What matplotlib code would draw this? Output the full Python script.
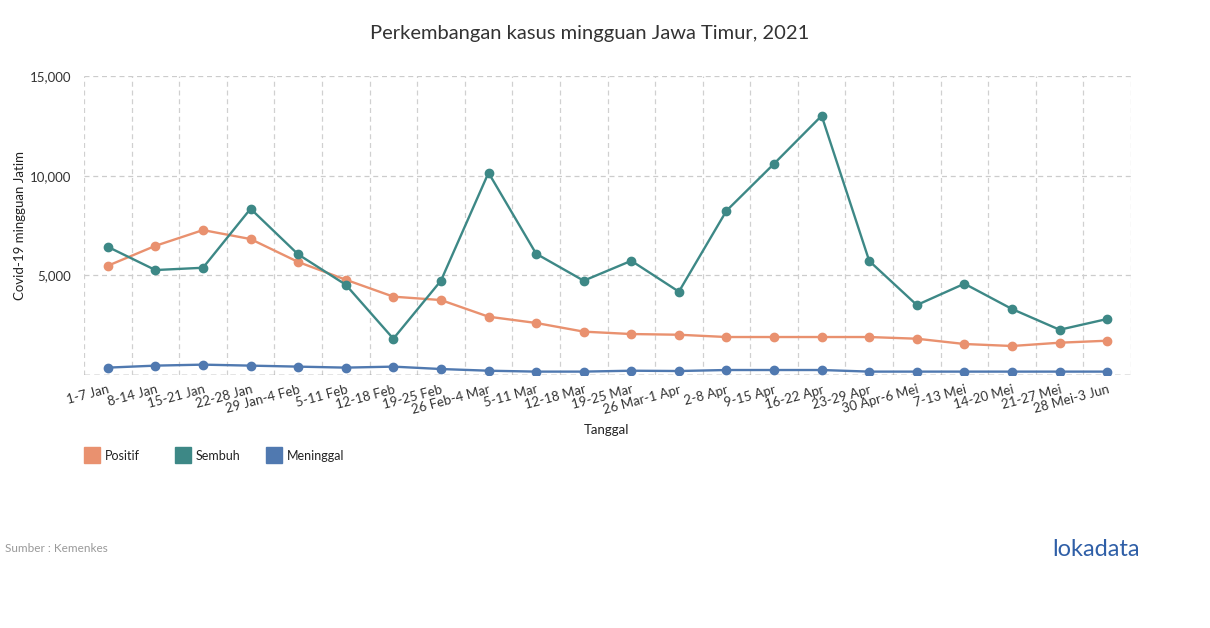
import numpy as np
from matplotlib import pyplot as plt
from matplotlib.patches import Rectangle

plt.rcParams['font.family'] = ['Lato', 'DejaVu Sans']

weeks = ["1-7 Jan", "8-14 Jan", "15-21 Jan", "22-28 Jan", "29 Jan-4 Feb", "5-11 Feb",
         "12-18 Feb", "19-25 Feb", "26 Feb-4 Mar", "5-11 Mar", "12-18 Mar", "19-25 Mar",
         "26 Mar-1 Apr", "2-8 Apr", "9-15 Apr", "16-22 Apr", "23-29 Apr", "30 Apr-6 Mei",
         "7-13 Mei", "14-20 Mei", "21-27 Mei", "28 Mei-3 Jun"]

positif = [5480, 6480, 7270, 6820, 5670, 4780, 3930, 3760, 2925, 2610, 2175, 2055,
           2020, 1905, 1905, 1905, 1905, 1820, 1555, 1455, 1620, 1720]
sembuh = [6430, 5265, 5380, 8340, 6050, 4530, 1820, 4730, 10145, 6085, 4730, 5730,
          4180, 8240, 10600, 13005, 5720, 3510, 4580, 3310, 2270, 2810]
meninggal = [370, 470, 520, 470, 420, 370, 420, 300, 215, 170, 170, 215,
             200, 250, 250, 250, 170, 170, 170, 170, 170, 170]

series = ["Positif", "Sembuh", "Meninggal"]
colors = ["#e9916f", "#3d8886", "#5079b0"]

W, H = 1210, 628
fig = plt.figure(figsize=(W/100, H/100), dpi=100)
ax = fig.add_axes([84/W, 1-375/H, (1131-84)/W, (375-76)/H])

x = np.arange(len(weeks))
for vals, c in zip([positif, sembuh, meninggal], colors):
    ax.plot(x, vals, color=c, lw=1.7, marker='o', ms=6, zorder=3)

ax.set_xlim(-0.5, len(weeks) - 0.5)
ax.set_ylim(0, 15000)

# grid
for v in [5000, 10000, 15000]:
    ax.axhline(v, color="#cccccc", lw=0.9, ls=(0, (4, 3)), zorder=1)
for b in np.arange(-0.5, len(weeks), 1.0):
    ax.axvline(b, color="#d0d0d0", lw=0.9, ls=(0, (4, 3)), zorder=1)
ax.axhline(0, color="#777777", lw=1.0, ls=(0, (4, 3)), zorder=2)

for s in ax.spines.values():
    s.set_visible(False)

ax.set_yticks([5000, 10000, 15000])
ax.set_yticklabels(["5,000", "10,000", "15,000"])
ax.set_xticks(x)
ax.set_xticklabels(weeks, rotation=15, ha='right', rotation_mode='anchor')
ax.tick_params(axis='both', length=0, labelsize=9.5, colors="#333333")
ax.tick_params(axis='y', pad=9)
ax.tick_params(axis='x', pad=6)

fig.text(20/W, 1-226/H, "Covid-19 mingguan Jatim", fontsize=9.5, color="#222222",
         rotation=90, ha='center', va='center')
fig.text(606/W, 1-430/H, "Tanggal", fontsize=9.5, color="#222222", ha='center', va='center')

fig.text(590/W, 1-33/H, "Perkembangan kasus mingguan Jawa Timur, 2021",
         fontsize=14.5, color="#333333", ha='center', va='center')

# legend
for i, (name, c) in enumerate(zip(series, colors)):
    x0 = [84, 175, 266][i]
    fig.add_artist(Rectangle((x0/W, 1-463/H), 16/W, 16/H, color=c, transform=fig.transFigure))
    fig.text((x0+21)/W, 1-455.5/H, name, fontsize=9, color="#222222", va='center')

fig.text(5/W, 1-548/H, "Sumber : Kemenkes", fontsize=8.5, color="#999999", va='center')
fig.text(1140/W, 1-549/H, "lokadata", fontsize=17, color="#2f5fa7", ha='right', va='center')

fig.savefig("out.png", dpi=100)
